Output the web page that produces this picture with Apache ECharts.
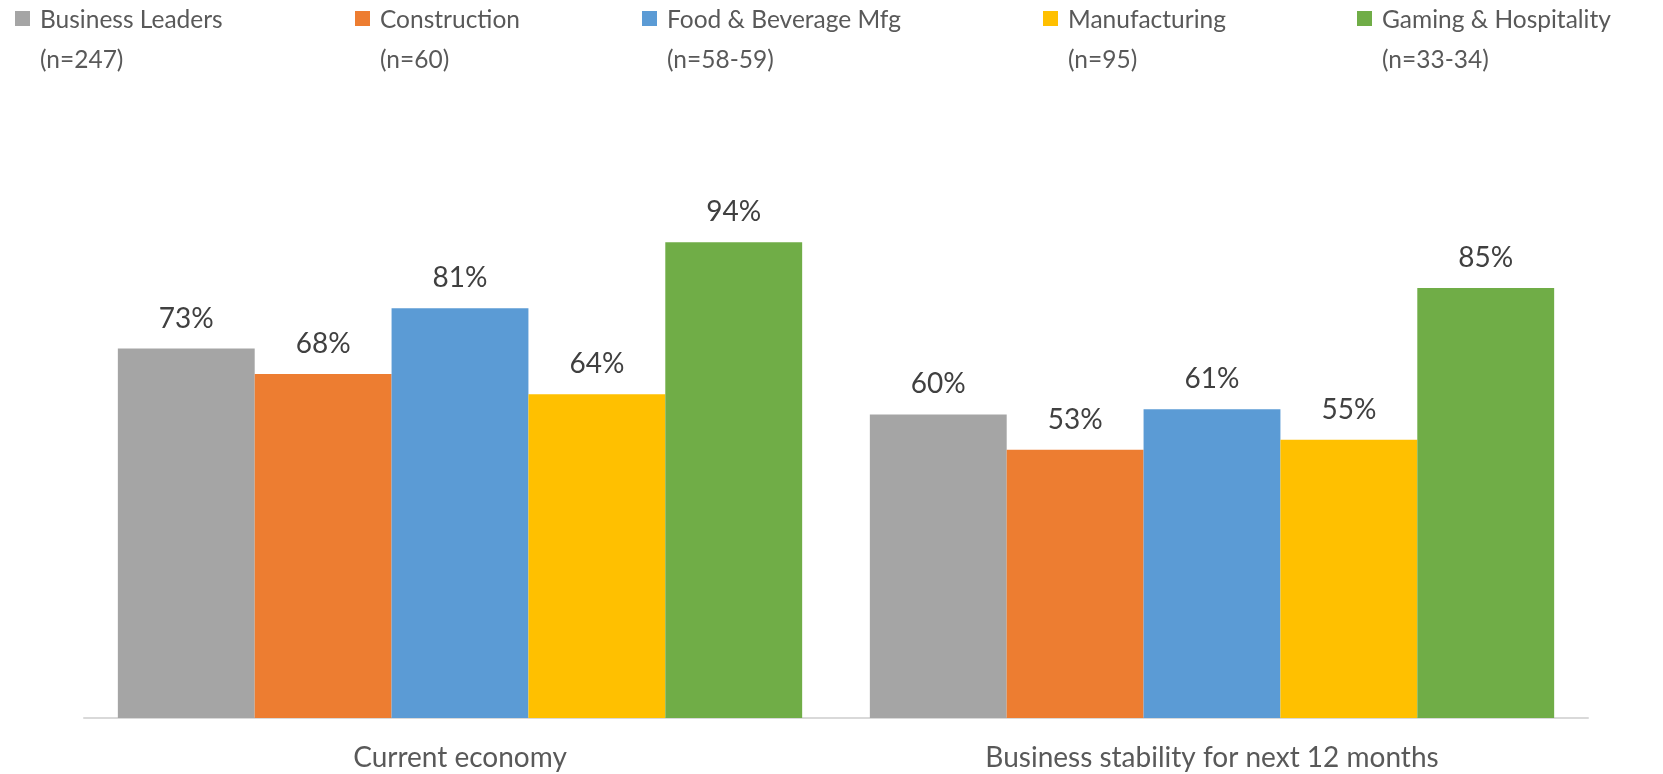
<!DOCTYPE html>
<html>
<head>
<meta charset="utf-8">
<script src="https://cdn.jsdelivr.net/npm/echarts@6/dist/echarts.min.js"></script>
<style>
  html, body { margin: 0; padding: 0; background: #ffffff; }
  #chart { width: 1663px; height: 774px; }
</style>
</head>
<body>
<div id="chart"></div>
<script>
// Survey groups and their sample sizes
const categories = ['Current economy', 'Business stability for next 12 months'];
const seriesNames = [
  'Business Leaders\n(n=247)',
  'Construction\n(n=60)',
  'Food & Beverage Mfg\n(n=58-59)',
  'Manufacturing\n(n=95)',
  'Gaming & Hospitality\n(n=33-34)'
];
const businessLeaders = [73, 60];
const construction = [68, 53];
const foodBeverage = [81, 61];
const manufacturing = [64, 55];
const gamingHospitality = [94, 85];
const seriesValues = [businessLeaders, construction, foodBeverage, manufacturing, gamingHospitality];
const colors = ['#A5A5A5', '#ED7D31', '#5B9BD5', '#FFC000', '#70AD47'];

const FONT = 'Lato, "Open Sans", sans-serif';
const legendLefts = [15, 355, 642, 1043, 1357];

// Square marker sitting beside the first line of a two-line legend entry
const legendIcon = 'path://M0,0h0.01v0.01h-0.01z M0,11h15v15h-15z M0,80h0.01v0.01h-0.01z';

const legends = seriesNames.map((name, i) => ({
  data: [name],
  left: legendLefts[i],
  top: 0,
  padding: 0,
  icon: legendIcon,
  itemWidth: 15,
  itemHeight: 80,
  itemGap: 0,
  selectedMode: false,
  textStyle: {
    fontFamily: FONT,
    fontSize: 24.5,
    color: '#595959',
    lineHeight: 40,
    padding: [0, 0, 0, 5]
  }
}));

const series = seriesNames.map((name, i) => ({
  name: name,
  type: 'bar',
  data: seriesValues[i],
  barGap: 0,
  barCategoryGap: '9%',
  itemStyle: { color: colors[i] },
  label: {
    show: true,
    position: 'top',
    distance: 16,
    formatter: '{c}%',
    fontFamily: FONT,
    fontSize: 28,
    color: '#404040'
  }
}));

const chart = echarts.init(document.getElementById('chart'));
chart.setOption({
  animation: false,
  legend: legends,
  grid: { left: 84, right: 75, top: 212, bottom: 56 },
  xAxis: {
    type: 'category',
    data: categories,
    axisTick: { show: false },
    axisLine: { lineStyle: { color: '#D9D9D9', width: 2 } },
    axisLabel: {
      margin: 26,
      fontFamily: FONT,
      fontSize: 28,
      color: '#595959'
    }
  },
  yAxis: {
    type: 'value',
    min: 0,
    max: 100,
    show: false,
    splitLine: { show: false }
  },
  series: series
});
</script>
</body>
</html>
